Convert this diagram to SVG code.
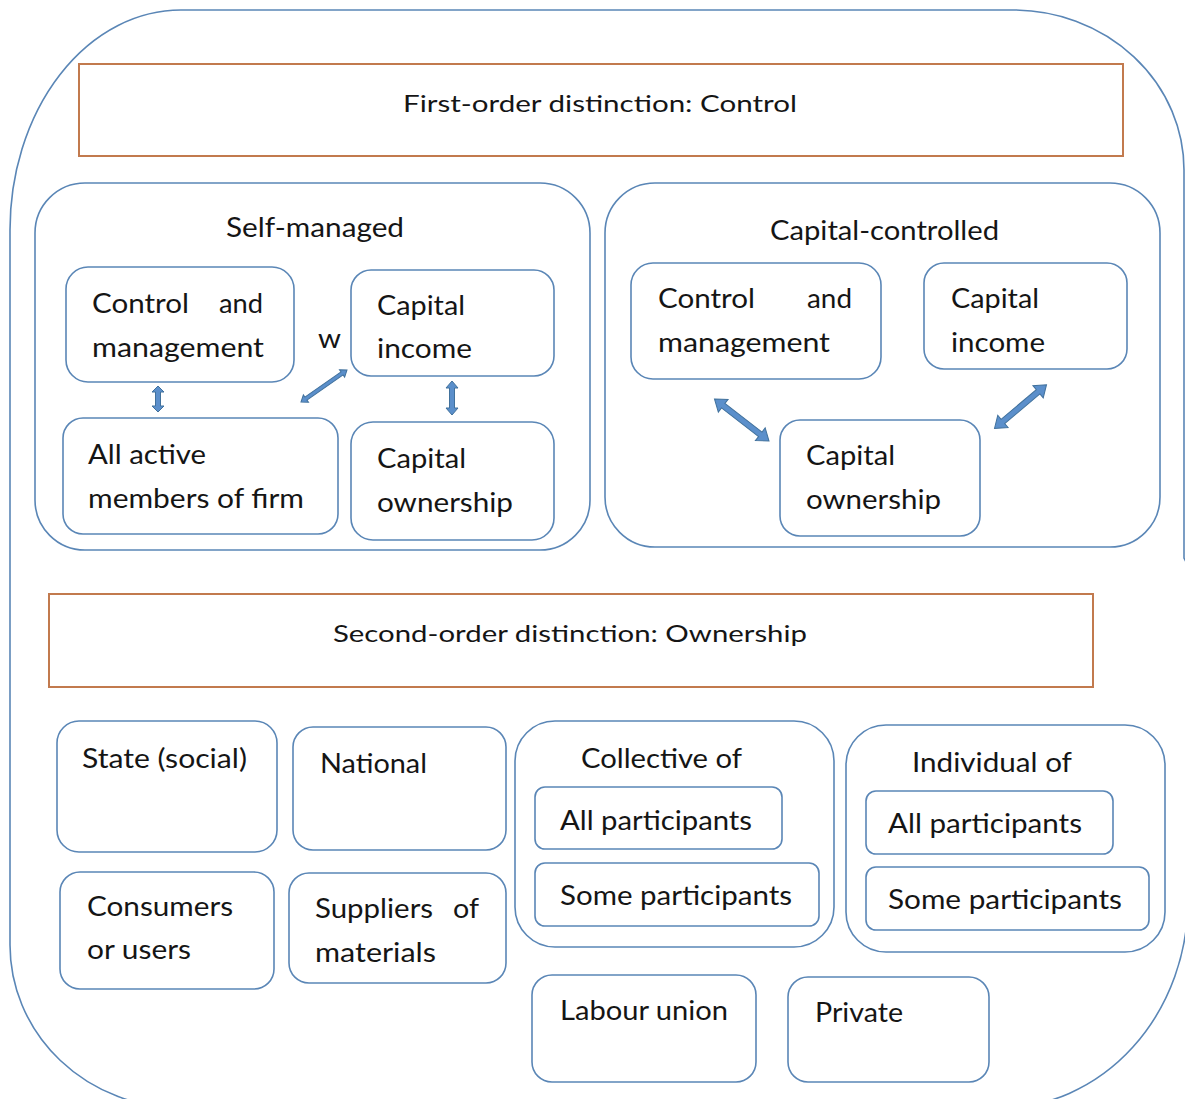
<svg xmlns="http://www.w3.org/2000/svg" width="1185" height="1099" viewBox="0 0 1185 1099">
<style>
.bg{fill:#ffffff}
.outer{fill:none;stroke:#5a86b6;stroke-width:1.6}
.box{fill:none;stroke:#5a86b6;stroke-width:1.6}
.hdr{fill:#ffffff;stroke:#c27a4e;stroke-width:2}
.t{font-family:Lato,"Liberation Sans",sans-serif;font-size:26px;fill:#151515}
.h{font-size:24px}
.arr{fill:#5b8fcb;stroke:#41719c;stroke-width:1}
</style>
<rect class="bg" x="0" y="0" width="1185" height="1099"/>
<path class="outer" d="M181,10 H1013 A171,160 0 0 1 1184,170 V558 L1188,566 V900 A188,208 0 0 1 1000,1108 H181 A171,163 0 0 1 10,945 V230 A171,220 0 0 1 181,10 Z"/>

<g id="first-order">
<rect class="hdr" x="79" y="64" width="1044" height="92"/>
<text class="t h" x="403" y="112" textLength="394" lengthAdjust="spacingAndGlyphs">First-order distinction: Control</text>
</g>

<g id="self-managed">
<rect class="box" x="35" y="183" width="555" height="367" rx="50" ry="50"/>
<text class="t" x="226" y="237" textLength="178" lengthAdjust="spacingAndGlyphs">Self-managed</text>
</g>
<g id="sm-control">
<rect class="box" x="66" y="267" width="228" height="115" rx="22" ry="22"/>
<text class="t" x="92" y="313" textLength="97" lengthAdjust="spacingAndGlyphs">Control</text>
<text class="t" x="219" y="313" textLength="44" lengthAdjust="spacingAndGlyphs">and</text>
<text class="t" x="92" y="357" textLength="172" lengthAdjust="spacingAndGlyphs">management</text>
</g>
<g id="sm-w">
<text class="t" x="318" y="348" textLength="23" lengthAdjust="spacingAndGlyphs">w</text>
</g>
<g id="sm-income">
<rect class="box" x="351" y="270" width="203" height="106" rx="20" ry="20"/>
<text class="t" x="377" y="315" textLength="88" lengthAdjust="spacingAndGlyphs">Capital</text>
<text class="t" x="377" y="358" textLength="95" lengthAdjust="spacingAndGlyphs">income</text>
</g>
<g id="sm-members">
<rect class="box" x="63" y="418" width="275" height="116" rx="20" ry="20"/>
<text class="t" x="88" y="464" textLength="118" lengthAdjust="spacingAndGlyphs">All active</text>
<text class="t" x="88" y="508" textLength="216" lengthAdjust="spacingAndGlyphs">members of firm</text>
</g>
<g id="sm-ownership">
<rect class="box" x="351" y="422" width="203" height="118" rx="22" ry="22"/>
<text class="t" x="377" y="468" textLength="89" lengthAdjust="spacingAndGlyphs">Capital</text>
<text class="t" x="377" y="512" textLength="136" lengthAdjust="spacingAndGlyphs">ownership</text>
</g>

<g id="capital-controlled">
<rect class="box" x="605" y="183" width="555" height="364" rx="50" ry="50"/>
<text class="t" x="770" y="240" textLength="229" lengthAdjust="spacingAndGlyphs">Capital-controlled</text>
</g>
<g id="cc-control">
<rect class="box" x="631" y="263" width="250" height="116" rx="22" ry="22"/>
<text class="t" x="658" y="308" textLength="97" lengthAdjust="spacingAndGlyphs">Control</text>
<text class="t" x="807" y="308" textLength="45" lengthAdjust="spacingAndGlyphs">and</text>
<text class="t" x="658" y="352" textLength="172" lengthAdjust="spacingAndGlyphs">management</text>
</g>
<g id="cc-income">
<rect class="box" x="924" y="263" width="203" height="106" rx="20" ry="20"/>
<text class="t" x="951" y="308" textLength="88" lengthAdjust="spacingAndGlyphs">Capital</text>
<text class="t" x="951" y="352" textLength="94" lengthAdjust="spacingAndGlyphs">income</text>
</g>
<g id="cc-ownership">
<rect class="box" x="780" y="420" width="200" height="116" rx="20" ry="20"/>
<text class="t" x="806" y="465" textLength="89" lengthAdjust="spacingAndGlyphs">Capital</text>
<text class="t" x="806" y="509" textLength="135" lengthAdjust="spacingAndGlyphs">ownership</text>
</g>

<g id="connectors">
<path class="arr" transform="translate(158,399) rotate(90)" d="M-13,0 L-7,-6 L-7,-2.5 L7,-2.5 L7,-6 L13,0 L7,6 L7,2.5 L-7,2.5 L-7,6 Z"/>
<path class="arr" transform="translate(452,398) rotate(90)" d="M-17,0 L-10,-6 L-10,-2.5 L10,-2.5 L10,-6 L17,0 L10,6 L10,2.5 L-10,2.5 L-10,6 Z"/>
<path class="arr" transform="translate(324,386) rotate(-34.8)" d="M-28,0 L-22,-4.5 L-22,-1.8 L22,-1.8 L22,-4.5 L28,0 L22,4.5 L22,1.8 L-22,1.8 L-22,4.5 Z"/>
<path class="arr" transform="translate(741.75,420) rotate(37.6)" d="M-34.4,0 L-23.4,-8 L-23.4,-2.8 L23.4,-2.8 L23.4,-8 L34.4,0 L23.4,8 L23.4,2.8 L-23.4,2.8 L-23.4,8 Z"/>
<path class="arr" transform="translate(1020.5,406.6) rotate(-40.1)" d="M-34,0 L-23,-8 L-23,-2.8 L23,-2.8 L23,-8 L34,0 L23,8 L23,2.8 L-23,2.8 L-23,8 Z"/>
</g>

<g id="second-order">
<rect class="hdr" x="49" y="594" width="1044" height="93"/>
<text class="t h" x="333" y="642" textLength="474" lengthAdjust="spacingAndGlyphs">Second-order distinction: Ownership</text>
</g>

<g id="state">
<rect class="box" x="57" y="721" width="220" height="131" rx="22" ry="22"/>
<text class="t" x="82" y="768" textLength="165" lengthAdjust="spacingAndGlyphs">State (social)</text>
</g>
<g id="national">
<rect class="box" x="293" y="727" width="213" height="123" rx="20" ry="20"/>
<text class="t" x="320" y="773" textLength="107" lengthAdjust="spacingAndGlyphs">National</text>
</g>
<g id="consumers">
<rect class="box" x="60" y="872" width="214" height="117" rx="20" ry="20"/>
<text class="t" x="87" y="916" textLength="146" lengthAdjust="spacingAndGlyphs">Consumers</text>
<text class="t" x="87" y="959" textLength="104" lengthAdjust="spacingAndGlyphs">or users</text>
</g>
<g id="suppliers">
<rect class="box" x="289" y="873" width="217" height="110" rx="20" ry="20"/>
<text class="t" x="315" y="918" textLength="118" lengthAdjust="spacingAndGlyphs">Suppliers</text>
<text class="t" x="453" y="918" textLength="26" lengthAdjust="spacingAndGlyphs">of</text>
<text class="t" x="315" y="962" textLength="121" lengthAdjust="spacingAndGlyphs">materials</text>
</g>
<g id="collective">
<rect class="box" x="515" y="721" width="319" height="226" rx="40" ry="40"/>
<text class="t" x="581" y="768" textLength="161" lengthAdjust="spacingAndGlyphs">Collective of</text>
</g>
<g id="collective-all">
<rect class="box" x="535" y="787" width="247" height="62" rx="10" ry="10"/>
<text class="t" x="560" y="830" textLength="192" lengthAdjust="spacingAndGlyphs">All participants</text>
</g>
<g id="collective-some">
<rect class="box" x="535" y="863" width="284" height="63" rx="10" ry="10"/>
<text class="t" x="560" y="905" textLength="232" lengthAdjust="spacingAndGlyphs">Some participants</text>
</g>
<g id="individual">
<rect class="box" x="846" y="725" width="319" height="227" rx="40" ry="40"/>
<text class="t" x="912" y="772" textLength="160" lengthAdjust="spacingAndGlyphs">Individual of</text>
</g>
<g id="individual-all">
<rect class="box" x="866" y="791" width="247" height="63" rx="10" ry="10"/>
<text class="t" x="888" y="833" textLength="194" lengthAdjust="spacingAndGlyphs">All participants</text>
</g>
<g id="individual-some">
<rect class="box" x="866" y="867" width="283" height="63" rx="10" ry="10"/>
<text class="t" x="888" y="909" textLength="234" lengthAdjust="spacingAndGlyphs">Some participants</text>
</g>
<g id="labour-union">
<rect class="box" x="532" y="975" width="224" height="107" rx="20" ry="20"/>
<text class="t" x="560" y="1020" textLength="168" lengthAdjust="spacingAndGlyphs">Labour union</text>
</g>
<g id="private">
<rect class="box" x="788" y="977" width="201" height="105" rx="20" ry="20"/>
<text class="t" x="815" y="1022" textLength="88" lengthAdjust="spacingAndGlyphs">Private</text>
</g>
</svg>
